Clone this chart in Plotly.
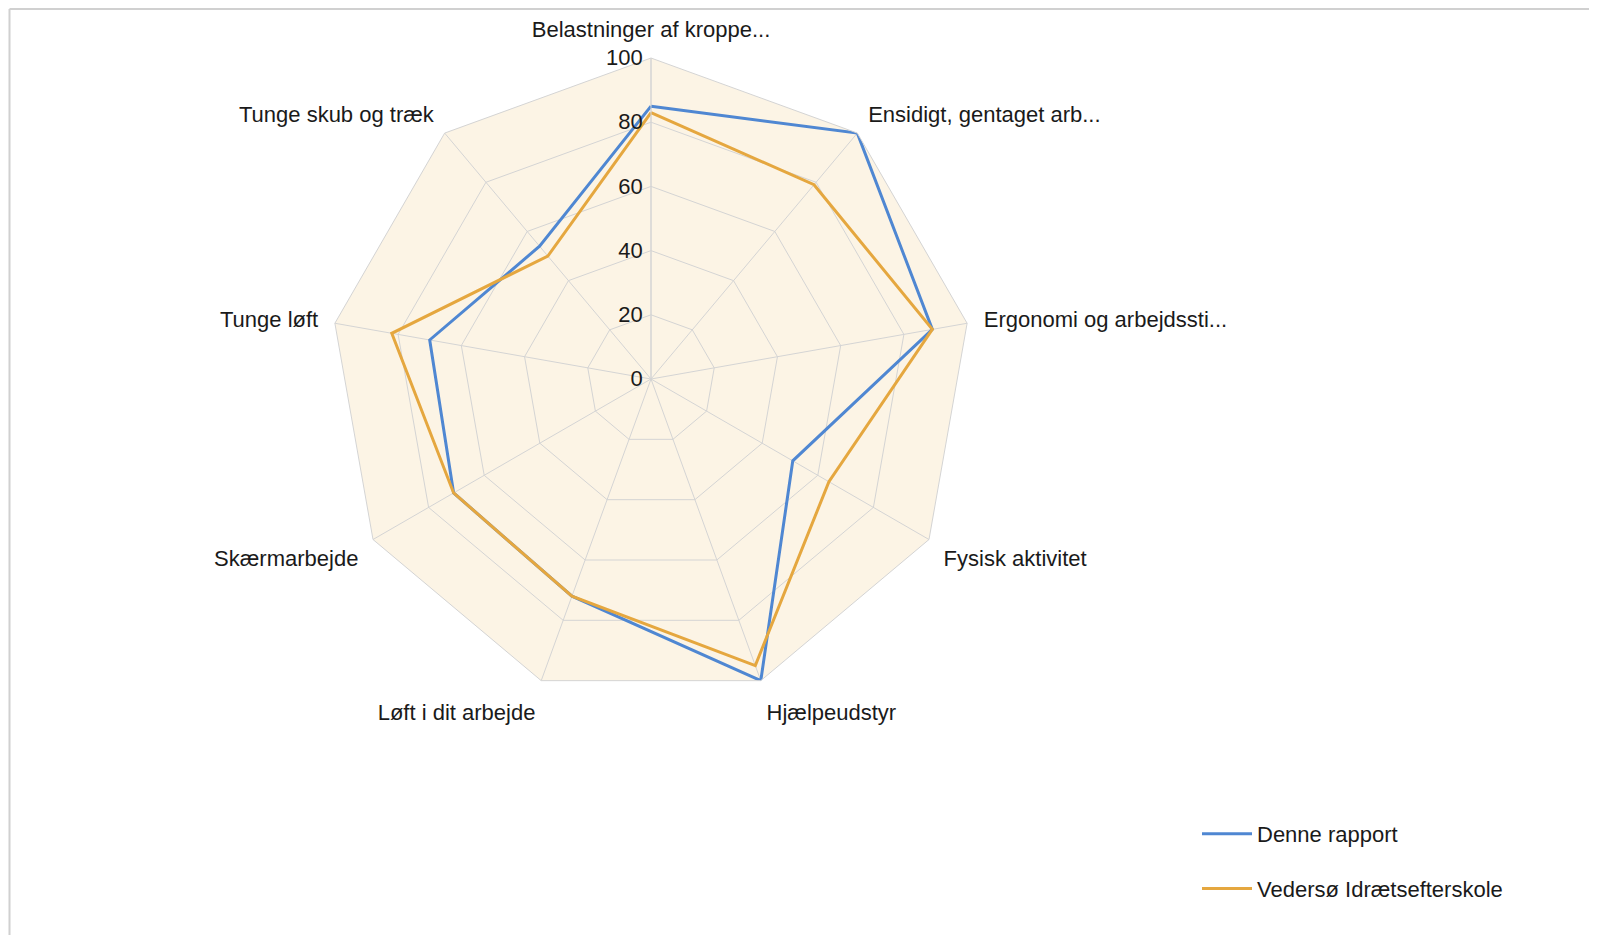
import plotly.graph_objects as go

categories = [
    "Belastninger af kroppe...",
    "Ensidigt, gentaget arb...",
    "Ergonomi og arbejdssti...",
    "Fysisk aktivitet",
    "Hjælpeudstyr",
    "Løft i dit arbejde",
    "Skærmarbejde",
    "Tunge løft",
    "Tunge skub og træk",
]
denne_rapport = [85, 100, 89, 51, 100, 72, 71, 70, 54]
vedersoe = [83, 79, 89, 64, 95, 72, 71, 82, 50]
series_names = ["Denne rapport", "Vedersø Idrætsefterskole"]
radial_ticks = [0, 20, 40, 60, 80, 100]

# page body has an 8px margin, so the figure is 8px smaller and offset
OFF = 8
W, H = 1597 - OFF, 935 - OFF
FONT = "Liberation Sans, Arial, sans-serif"
FS = 22

fig = go.Figure()
for name, vals, color, grp in [
    (series_names[0], denne_rapport, "#4f87d2", "a"),
    (series_names[1], vedersoe, "#e5a73f", "b"),
]:
    fig.add_trace(go.Scatterpolar(
        r=vals + vals[:1],
        theta=categories + categories[:1],
        mode="lines",
        name=name,
        legendgroup=grp,
        line=dict(color=color, width=3),
        hoverinfo="skip",
    ))

cx, cy, R = 651 - OFF, 379 - OFF, 321
fig.update_layout(
    width=W, height=H,
    margin=dict(l=0, r=0, t=0, b=0),
    paper_bgcolor="white",
    font=dict(family=FONT, size=FS, color="#1a1a1a"),
    polar=dict(
        domain=dict(x=[(cx - R) / W, (cx + R) / W], y=[(H - (cy + R)) / H, (H - (cy - R)) / H]),
        gridshape="linear",
        bgcolor="#fcf4e5",
        radialaxis=dict(
            range=[0, 100], tickvals=radial_ticks, angle=90, tickangle=90,
            side="counterclockwise", showline=True, linecolor="#d4d4d4", linewidth=1,
            gridcolor="#d4d4d4", gridwidth=1, ticks="", tickfont=dict(size=FS, color="#1a1a1a"),
        ),
        angularaxis=dict(
            direction="clockwise", rotation=90, showline=True, linecolor="#d4d4d4",
            linewidth=1, gridcolor="#d4d4d4", gridwidth=1,
            ticks="outside", ticklen=12, tickcolor="rgba(0,0,0,0)",
            tickfont=dict(size=FS, color="#1a1a1a"),
        ),
    ),
    showlegend=True,
    legend=dict(
        x=(1197 - OFF) / W, y=1 - (813 - OFF) / H, xanchor="left", yanchor="top",
        font=dict(size=FS, color="#1a1a1a"), tracegroupgap=23, itemwidth=50,
        bgcolor="rgba(0,0,0,0)",
    ),
    shapes=[
        dict(type="line", xref="paper", yref="paper", x0=1.5 / W, x1=1, y0=1 - 1 / H, y1=1 - 1 / H,
             line=dict(color="#d0d0d0", width=2)),
        dict(type="line", xref="paper", yref="paper", x0=1.5 / W, x1=1.5 / W, y0=0, y1=1 - 1 / H,
             line=dict(color="#d0d0d0", width=2)),
    ],
)

fig.write_html("out.html")
